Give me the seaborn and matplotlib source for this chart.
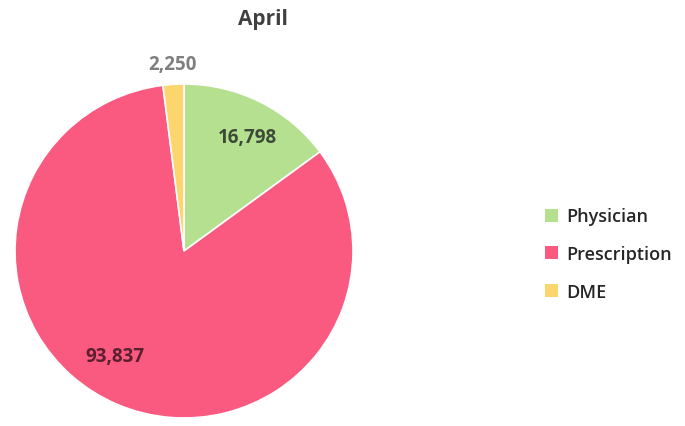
import numpy as np
import matplotlib
matplotlib.use("Agg")
import matplotlib.pyplot as plt
import seaborn as sns
from matplotlib.patches import Patch

# Claim counts by category for April
categories = ["Physician", "Prescription", "DME"]
values = [16798, 93837, 2250]
value_labels = ["16,798", "93,837", "2,250"]
colors = ["#b5e08f", "#fb5a80", "#fcd56c"]

sns.set_theme(style="white")
plt.rcParams["font.family"] = ["Open Sans", "DejaVu Sans"]

fig = plt.figure(figsize=(6.85, 4.27), dpi=100)
fig.patch.set_facecolor("white")

# Pie area in pixels: centre (184, 252), radii 169 x 167
W, H = 685, 427
cx, cy, rx, ry = 184, 252, 169, 167
ax = fig.add_axes([(cx - rx) / W, (H - cy - ry) / H, 2 * rx / W, 2 * ry / H])

wedges, _ = ax.pie(values, colors=colors, startangle=90, counterclock=False,
                   radius=1.0, wedgeprops=dict(linewidth=1.2, edgecolor="white"))
ax.set_xlim(-1, 1)
ax.set_ylim(-1, 1)
ax.set_aspect("auto")
ax.axis("off")

# Value labels: distance from centre and angular nudge from each wedge's mid-angle
label_dist = [0.78, 0.75, 1.12]
label_nudge = [-2, -10, 0]
label_colors = ["#3c4a38", "#5a1f30", "#7f7f7f"]
for w, txt, d, da, c in zip(wedges, value_labels, label_dist, label_nudge, label_colors):
    ang = np.deg2rad((w.theta1 + w.theta2) / 2 + da)
    ax.text(d * np.cos(ang), d * np.sin(ang), txt, ha="center", va="center",
            fontsize=13.5, fontweight="bold", color=c)

fig.text(263 / W, 1 - 20 / H, "April", ha="center", va="center",
         fontsize=15, fontweight="bold", color="#404040")

handles = [Patch(facecolor=c, edgecolor="none") for c in colors]
leg = fig.legend(handles, categories, loc="center left",
                 bbox_to_anchor=(545 / W, 1 - 255 / H), frameon=False,
                 handlelength=0.72, handleheight=0.72,
                 handletextpad=0.45, labelspacing=1.08,
                 borderpad=0, borderaxespad=0,
                 prop=dict(weight="semibold", size=13))
for t in leg.get_texts():
    t.set_color("#262626")

fig.savefig("out.png", dpi=100, facecolor="white")
